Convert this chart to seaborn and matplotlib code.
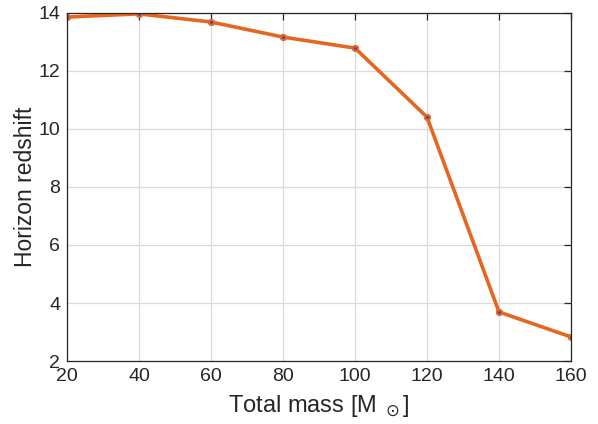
import matplotlib
matplotlib.use("Agg")
import matplotlib.pyplot as plt
import seaborn as sns
import pandas as pd

mass = [20, 40, 60, 80, 100, 120, 140, 160]
redshift = [13.86, 13.97, 13.69, 13.17, 12.79, 10.41, 3.69, 2.83]
xticks = [20, 40, 60, 80, 100, 120, 140, 160]
yticks = [2, 4, 6, 8, 10, 12, 14]

sns.set_style("white")
plt.rcParams['font.family'] = ['Liberation Sans', 'DejaVu Sans']
plt.rcParams['mathtext.fontset'] = 'dejavusans'

df = pd.DataFrame({"mass": mass, "z": redshift})
fig = plt.figure(figsize=(5.98, 4.24), dpi=100)
ax = fig.add_axes([67/598, 1 - 361/424, (571-67)/598, (361-13)/424])
color = '#E5661F'
sns.lineplot(data=df, x="mass", y="z", ax=ax, color=color, linewidth=2.6,
             marker='o', markersize=4.5, markeredgecolor=color, markerfacecolor=color)
ax.plot(mass, redshift, linestyle='none', marker='.', markersize=2, color='#3344cc')

ax.set_xlim(20, 160)
ax.set_ylim(2, 14)
ax.set_xticks(xticks)
ax.set_yticks(yticks)
ax.grid(True, color='#dadada', linewidth=0.9)
ax.set_axisbelow(True)
for s in ax.spines.values():
    s.set_color('#262626')
    s.set_linewidth(0.9)
ax.tick_params(direction='in', length=5, width=0.9, colors='#262626', labelsize=14,
               top=True, right=True, pad=5)
ax.set_xlabel(r'Total mass [M$_{\ \odot}$]', fontsize=17, color='#262626', labelpad=6)
ax.set_ylabel('Horizon redshift', fontsize=16.5, color='#262626', labelpad=1)
fig.savefig("out.png", dpi=100)
